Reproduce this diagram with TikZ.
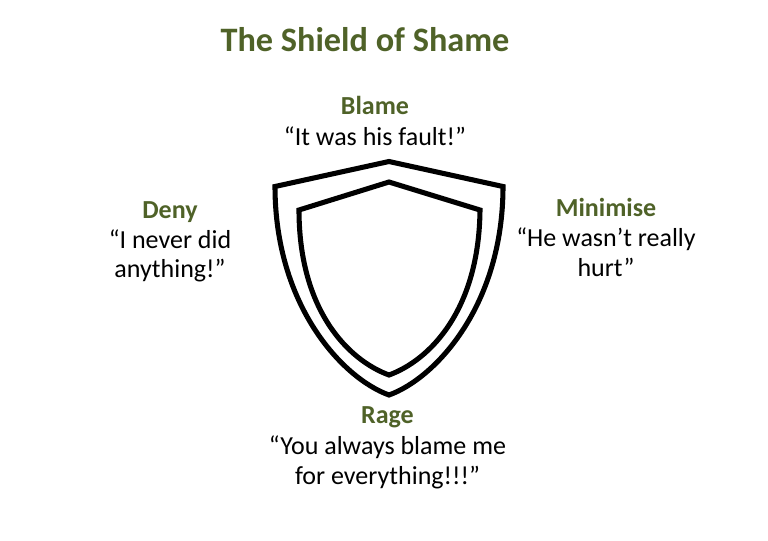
\documentclass[tikz,border=0pt]{standalone}
\usepackage{fontspec}
\setmainfont{Carlito}
\usepackage{xcolor}

\definecolor{shieldgreen}{HTML}{4F6228}

\tikzset{
	heading/.style={anchor=base, inner sep=0pt, font=\fontsize{19.5}{23}\selectfont\bfseries, text=shieldgreen},
	saying/.style={anchor=base, inner sep=0pt, font=\fontsize{19.5}{23}\selectfont},
	shieldline/.style={line width=3.8pt, line join=miter}
}

\begin{document}
\begin{tikzpicture}[x=0.75pt, y=-0.75pt]
	
	\useasboundingbox (0,0) rectangle (768,540);
	
	\node [anchor=base, inner sep=0pt, font=\fontsize{25.7}{30}\selectfont\bfseries, text=shieldgreen] (title) at (365,51.7) {The Shield of Shame};
	
	% the shield
	\draw [shieldline] (389,161.5) -- (503,186.5) .. controls (503,305) and (436,378) .. (389,395) .. controls (342,378) and (275,305) .. (275,186.5) -- cycle;
	\draw [shieldline] (389,182) -- (480,210) .. controls (479,310) and (430,360) .. (389,375) .. controls (348,360) and (299,310) .. (299,210) -- cycle;
	
	\node [heading] (blame) at (375,114.3) {Blame};
	\node [saying] (blame1) at (375,145) {“It was his fault!”};
	
	\node [heading] (deny) at (170,218.3) {Deny};
	\node [saying] (deny1) at (170,248) {“I never did};
	\node [saying] (deny2) at (170,277.5) {anything!”};
	
	\node [heading] (minimise) at (606,216.7) {Minimise};
	\node [saying] (minimise1) at (606,246.7) {“He wasn’t really};
	\node [saying] (minimise2) at (606,276.5) {hurt”};
	
	\node [heading] (rage) at (387.5,423.3) {Rage};
	\node [saying] (rage1) at (387.5,454.3) {“You always blame me};
	\node [saying] (rage2) at (387.5,484.3) {for everything!!!”};
	
\end{tikzpicture}
\end{document}
